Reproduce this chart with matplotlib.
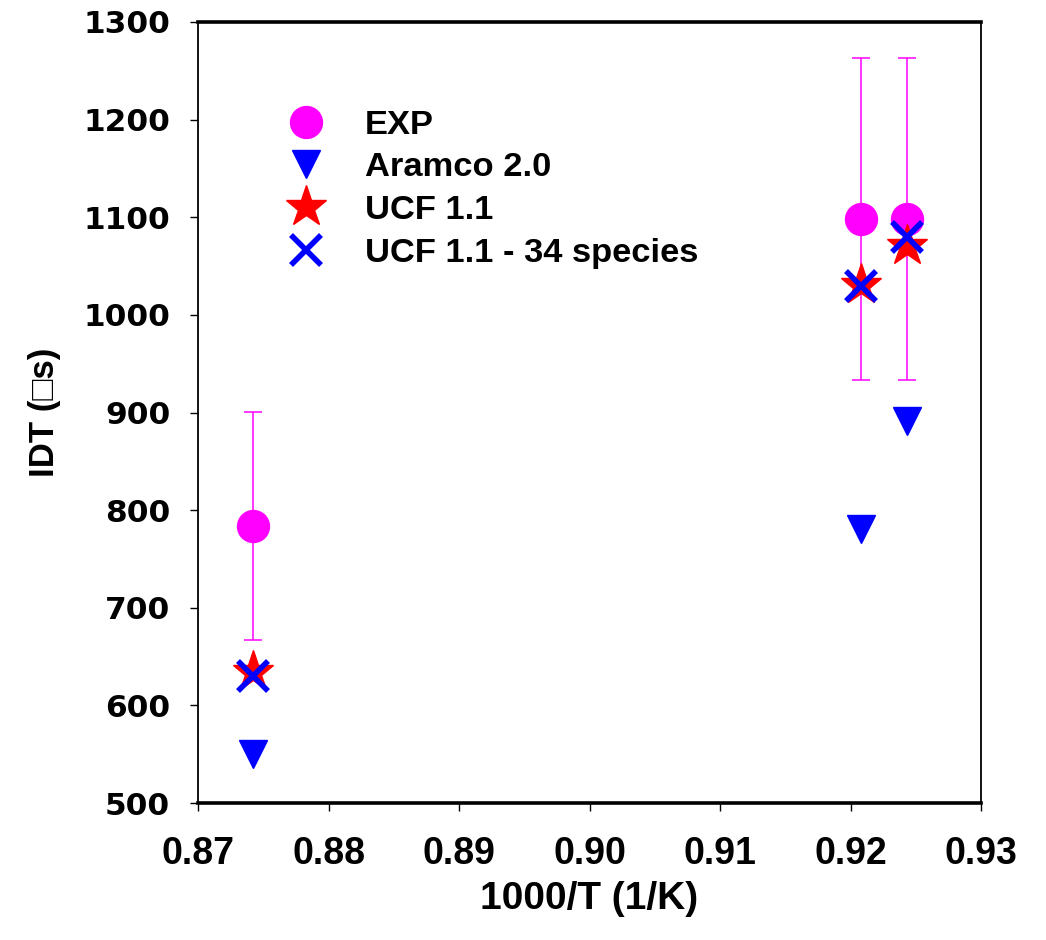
import matplotlib
matplotlib.use("Agg")
import matplotlib.pyplot as plt

# inverse temperature (1000/T, 1/K)
inv_T = [0.8742, 0.9208, 0.9243]

# ignition delay times (us)
idt_exp = [784, 1098, 1098]
idt_exp_err = [117, 165, 165]
idt_aramco = [550, 781, 891]
idt_ucf = [634, 1031, 1071]
idt_ucf34 = [630, 1030, 1080]

xticks = [0.87, 0.88, 0.89, 0.90, 0.91, 0.92, 0.93]
yticks = [500, 600, 700, 800, 900, 1000, 1100, 1200, 1300]

plt.rcParams['font.family'] = ['Liberation Sans', 'DejaVu Sans']
plt.rcParams['font.weight'] = 'bold'

fig = plt.figure(figsize=(10.46, 9.4), dpi=100)
ax = fig.add_axes([0.1893, 0.1457, 0.7486, 0.8309])

# error bars of the experiment
ax.errorbar(inv_T, idt_exp, yerr=idt_exp_err, fmt='none', ecolor='#ff00ff',
            elinewidth=1.1, capsize=6.5, capthick=1.1, zorder=2)
ax.plot(inv_T, idt_exp, 'o', color='#ff00ff', ms=23, ls='none', label='EXP', zorder=3)
ax.plot(inv_T, idt_aramco, 'v', color='#0000ff', ms=20, ls='none', label='Aramco 2.0', zorder=4)
ax.plot(inv_T, idt_ucf, '*', color='#ff0000', ms=31, ls='none', label='UCF 1.1', zorder=5)
ax.plot(inv_T, idt_ucf34, 'x', color='#0000ff', ms=21, mew=4, ls='none',
        label='UCF 1.1 - 34 species', zorder=6)

ax.set_xlim(0.87, 0.93)
ax.set_ylim(500, 1300)
ax.set_xticks(xticks)
ax.set_xticklabels(['%.2f' % t for t in xticks])
ax.set_yticks(yticks)
ax.set_yticklabels([str(t) for t in yticks], family='DejaVu Sans',
                   fontweight='bold', fontsize=22.5)

ax.tick_params(axis='x', direction='out', length=6, width=1, pad=18, labelsize=27)
ax.tick_params(axis='y', direction='out', length=6, width=1, pad=14)

for s in ['top', 'bottom']:
    ax.spines[s].set_linewidth(2.6)
for s in ['left', 'right']:
    ax.spines[s].set_linewidth(1.3)

ax.set_xlabel('1000/T (1/K)', fontsize=28, fontweight='bold', labelpad=6)
ax.set_ylabel('IDT (\u25a1s)', fontsize=25, fontweight='bold', labelpad=16)

ax.legend(loc='upper left', bbox_to_anchor=(0.0945, 0.888), frameon=False,
          numpoints=1, borderaxespad=0, borderpad=0,
          handletextpad=0.7, labelspacing=0.34, prop={'weight': 'bold', 'size': 24.8})

fig.savefig('out.png', dpi=100)
